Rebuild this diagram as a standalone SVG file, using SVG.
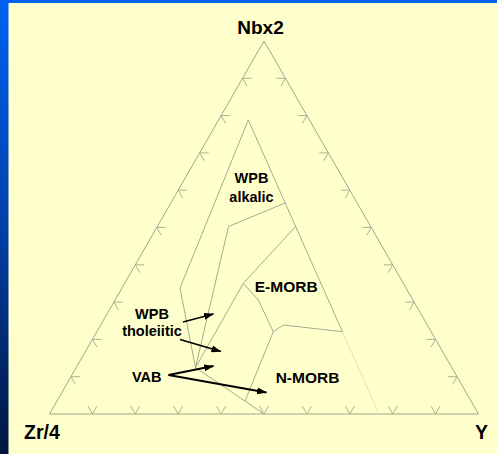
<svg xmlns="http://www.w3.org/2000/svg" width="497" height="454" viewBox="0 0 497 454">
  <defs>
    <linearGradient id="sideBar" x1="0" y1="0" x2="0" y2="1">
      <stop offset="0" stop-color="#0062f2"/>
      <stop offset="0.5" stop-color="#0040a8"/>
      <stop offset="1" stop-color="#00163f"/>
    </linearGradient>
    <marker id="head" markerUnits="userSpaceOnUse" markerWidth="10" markerHeight="7" refX="9.5" refY="3.5" orient="auto">
      <path d="M0,0 L10,3.5 L0,7 z" fill="#000"/>
    </marker>
    <style>
      .frame { fill: none; stroke: #a4a48c; stroke-width: 1; }
      .tick { fill: none; stroke: #b0b098; stroke-width: 1; }
      .field { fill: none; stroke: #a8a890; stroke-width: 1; stroke-linejoin: round; }
      .faint { fill: none; stroke: #e2e2b8; stroke-width: 1; }
      .arrow { fill: none; stroke: #000; stroke-width: 1.8; marker-end: url(#head); }
      text { font-family: "Liberation Sans", Arial, sans-serif; font-weight: bold; fill: #000; }
      .axis { font-size: 19px; }
      .corner { font-size: 19.5px; }
      .lbl { font-size: 14.5px; text-anchor: middle; }
    </style>
  </defs>

  <!-- slide background -->
  <rect x="0" y="0" width="497" height="454" fill="#ffffcc"/>
  <rect x="0" y="0" width="497" height="3" fill="#0062f2"/>
  <rect x="0" y="0" width="8.5" height="454" fill="url(#sideBar)"/>

  <!-- ternary frame -->
  <g id="frame">
    <path class="frame" d="M264,41 L49.5,414 L478.5,414 Z"/>
  </g>

  <!-- 10% ticks along the three sides, drawn in the grid directions -->
  <g id="ticks">
    <path class="tick" d="M87.9,406.2 L92.4,414 L96.9,406.2 M130.8,406.2 L135.3,414 L139.8,406.2 M173.7,406.2 L178.2,414 L182.7,406.2 M216.6,406.2 L221.1,414 L225.6,406.2 M259.5,406.2 L264,414 L268.5,406.2 M302.4,406.2 L306.9,414 L311.4,406.2 M345.3,406.2 L349.8,414 L354.3,406.2 M388.2,406.2 L392.7,414 L397.2,406.2 M431.1,406.2 L435.6,414 L440.1,406.2"/>
    <path class="tick" d="M79.95,376.7 L70.95,376.7 L75.45,384.5 M101.4,339.4 L92.4,339.4 L96.9,347.2 M122.85,302.1 L113.85,302.1 L118.35,309.9 M144.3,264.8 L135.3,264.8 L139.8,272.6 M165.75,227.5 L156.75,227.5 L161.25,235.3 M187.2,190.2 L178.2,190.2 L182.7,198 M208.65,152.9 L199.65,152.9 L204.15,160.7 M230.1,115.6 L221.1,115.6 L225.6,123.4 M251.55,78.3 L242.55,78.3 L247.05,86.1"/>
    <path class="tick" d="M448.05,376.7 L457.05,376.7 L452.55,384.5 M426.6,339.4 L435.6,339.4 L431.1,347.2 M405.15,302.1 L414.15,302.1 L409.65,309.9 M383.7,264.8 L392.7,264.8 L388.2,272.6 M362.25,227.5 L371.25,227.5 L366.75,235.3 M340.8,190.2 L349.8,190.2 L345.3,198 M319.35,152.9 L328.35,152.9 L323.85,160.7 M297.9,115.6 L306.9,115.6 L302.4,123.4 M276.45,78.3 L285.45,78.3 L280.95,86.1"/>
  </g>

  <!-- field boundaries -->
  <g id="boundaries">
    <path class="field" d="M248.3,120 L342.4,331.7"/>
    <path class="faint" d="M342.4,331.7 L379,414"/>
    <path class="field" d="M248.3,120 L180,288 L195.5,367.5"/>
    <path class="field" d="M285.2,203 L228.5,226.5 L195.5,367.5"/>
    <path class="field" d="M295.6,226.5 L243.3,283.3 L195.5,367.5"/>
    <path class="field" d="M243.3,283.3 L258.3,300 L273.3,331.7 L245,401"/>
    <path class="field" d="M273.3,331.7 L283.3,325 L342.4,331.7"/>
    <path class="field" d="M195.5,367.5 L264,414"/>
  </g>

  <!-- apex labels -->
  <g id="apex-nb"><text class="axis" x="260.5" y="34.3" text-anchor="middle">Nbx2</text></g>
  <g id="apex-zr"><text class="corner" x="24" y="438.5">Zr/4</text></g>
  <g id="apex-y"><text class="corner" x="488" y="438.5" text-anchor="end">Y</text></g>

  <!-- field labels -->
  <g id="wpb-alkalic">
    <text class="lbl" x="251.5" y="183.3">WPB</text>
    <text class="lbl" x="251.5" y="201.5">alkalic</text>
  </g>
  <g id="e-morb"><text class="lbl" x="286.2" y="291.7" style="font-size:15.5px">E-MORB</text></g>
  <g id="n-morb"><text class="lbl" x="307.5" y="383.3" style="font-size:15.5px">N-MORB</text></g>
  <g id="wpb-tholeiitic">
    <text class="lbl" x="152" y="319">WPB</text>
    <text class="lbl" x="152" y="335.7">tholeiitic</text>
  </g>
  <g id="vab"><text class="lbl" x="146.7" y="382.3">VAB</text></g>

  <!-- leader arrows -->
  <g id="connectors">
    <path class="arrow" d="M183,322 L213.5,314"/>
    <path class="arrow" d="M180,339.5 L221,351.5"/>
    <path class="arrow" d="M168.5,375 L213.5,366"/>
    <path class="arrow" d="M168.5,375 L266.5,392.5"/>
  </g>
</svg>
